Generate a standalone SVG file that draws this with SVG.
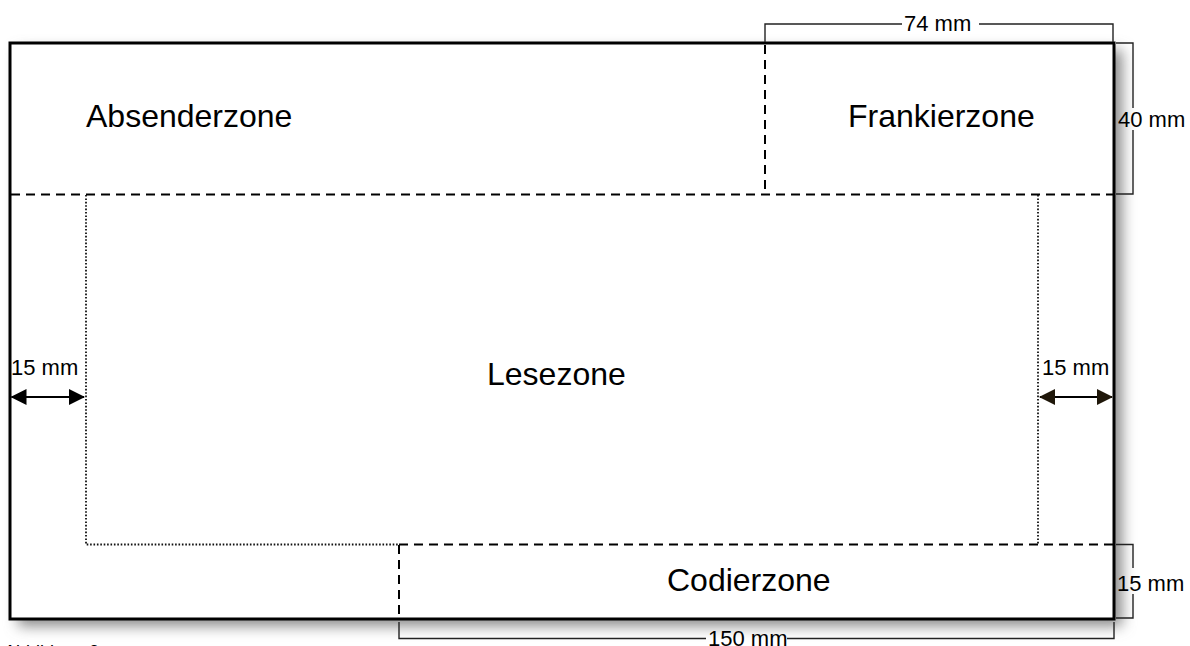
<svg xmlns="http://www.w3.org/2000/svg" width="1190" height="646" viewBox="0 0 1190 646">
<style>
.zone{font-family:"Liberation Sans",Arial,sans-serif;font-size:32px;fill:#000}
.dim{font-family:"Liberation Sans",Arial,sans-serif;font-size:22px;fill:#000}
.dash{fill:none;stroke:#000;stroke-width:2;stroke-dasharray:9,6}
.dot{fill:none;stroke:#111;stroke-width:1.8;stroke-dasharray:1.6,1.8}
.dimline{fill:none;stroke:#222;stroke-width:1.4}
.arrow{stroke:#000;stroke-width:2.2}
</style>
<defs>
<filter id="shadow" x="-10%" y="-10%" width="120%" height="130%">
<feGaussianBlur stdDeviation="7"/>
</filter>
<marker id="ah" viewBox="0 0 16 16" refX="15" refY="8" markerWidth="16" markerHeight="16" markerUnits="userSpaceOnUse" orient="auto-start-reverse">
<path d="M0,0 L16,8 L0,16 Z" fill="#000"/>
</marker>
<marker id="ah2" viewBox="0 0 16 16" refX="15" refY="8" markerWidth="16" markerHeight="16" markerUnits="userSpaceOnUse" orient="auto-start-reverse">
<path d="M0,0 L16,8 L0,16 Z" fill="#1f170a"/>
</marker>
</defs>
<rect width="1190" height="646" fill="#fff"/>
<g id="envelope">
<rect x="18" y="50" width="1104" height="576" fill="#888" filter="url(#shadow)"/>
<rect x="10" y="43" width="1104" height="576" fill="#fff" stroke="#000" stroke-width="3"/>
</g>
<g id="absenderzone">
<text class="zone" x="86" y="127">Absenderzone</text>
</g>
<g id="frankierzone">
<path class="dash" d="M765,45 V194"/>
<text class="zone" x="848" y="127">Frankierzone</text>
</g>
<g id="lesezone">
<path class="dash" d="M11,194.5 H1113"/>
<path class="dot" d="M86,195 V544.5 H398"/>
<path class="dot" d="M1038,195 V544.5"/>
<text class="zone" x="487" y="385">Lesezone</text>
</g>
<g id="codierzone">
<path class="dash" d="M399,544.5 H1113"/>
<path class="dash" d="M399,545 V618"/>
<text class="zone" x="667" y="591">Codierzone</text>
</g>
<g id="connectors">
<path class="dimline" d="M765,42 V24 H902"/>
<path class="dimline" d="M979,24 H1113 V42"/>
<path class="dimline" d="M1116,43 H1133 V108"/>
<path class="dimline" d="M1133,130 V194 H1116"/>
<path class="dimline" d="M1116,544.5 H1133 V568"/>
<path class="dimline" d="M1133,594 V618 H1116"/>
<path class="dimline" d="M399,622 V638.5 H706"/>
<path class="dimline" d="M787,638.5 H1114 V622"/>
<line class="arrow" x1="11.5" y1="397" x2="84" y2="397" marker-start="url(#ah)" marker-end="url(#ah)"/>
<line class="arrow" x1="1040" y1="397" x2="1112" y2="397" stroke="#1f170a" marker-start="url(#ah2)" marker-end="url(#ah2)"/>
</g>
<g id="labels">
<text class="dim" x="904" y="31">74 mm</text>
<text class="dim" x="1118" y="127">40 mm</text>
<text class="dim" x="11" y="375">15 mm</text>
<text class="dim" x="1042" y="375">15 mm</text>
<text class="dim" x="1117" y="591">15 mm</text>
<text class="dim" x="708" y="646">150 mm</text>
<text class="dim" x="4" y="658" style="font-size:18px">Abbildung 2</text>
</g>
</svg>
